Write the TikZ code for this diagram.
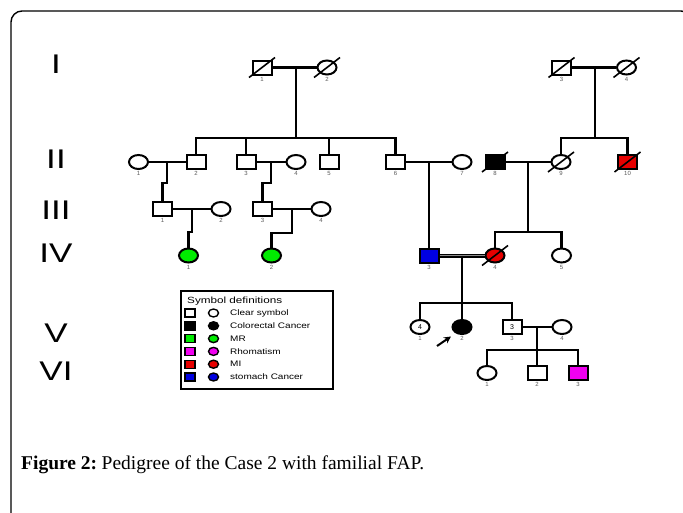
\documentclass[tikz,border=0pt]{standalone}
\usepackage{fontspec}
\setmainfont{Liberation Serif}
\setsansfont{Liberation Sans}
\usetikzlibrary{shapes.geometric, arrows.meta, positioning}
\definecolor{mrgreen}{RGB}{0,235,0}
\definecolor{mired}{RGB}{230,0,0}
\definecolor{stomachblue}{RGB}{0,0,225}
\definecolor{rheumamagenta}{RGB}{240,0,240}
\newcommand{\hwide}[2][1.3]{\scalebox{#1}[1]{#2}}

\begin{document}
\begin{tikzpicture}[x=1pt, y=-1pt,
    line/.style={line width=2.1pt},
    person/.style={draw, line width=2pt, minimum width=19pt, minimum height=14pt, inner sep=0pt, fill=white, font=\sffamily\fontsize{7}{7}\selectfont},
    male/.style={person, rectangle},
    female/.style={person, ellipse},
    slash/.style={draw, line width=1.6pt},
    dead/.style={append after command={([shift={(-13,10)}]\tikzlastnode.center) edge[slash] ([shift={(13,-10)}]\tikzlastnode.center)}},
    num/.style={font=\sffamily\fontsize{6}{6}\selectfont, text=black!65, inner sep=1pt, label distance=0.5pt},
    gen/.style={font=\sffamily\fontsize{27}{27}\selectfont, anchor=base, inner sep=0pt},
    lsym/.style={draw, line width=1.4pt, minimum width=10pt, minimum height=8pt, inner sep=0pt},
    ltext/.style={anchor=west, inner sep=0pt, font=\sffamily\fontsize{8}{8}\selectfont},
    arrow/.style={-{Stealth[length=7pt, width=7pt]}, line width=2pt}
]
    \useasboundingbox (0,0) rectangle (683,512);

    % Frame
    \draw[line width=1.4pt, rounded corners=11pt] (11,520) -- (11,11) -- (692,11) -- (692,520);

    % Generations
    \node[gen] (gI) at (56,73) {\hwide{I}};
    \node[gen] (gII) at (56,168) {\hwide{II}};
    \node[gen] (gIII) at (56,219) {\hwide{III}};
    \node[gen] (gIV) at (56,262) {\hwide{IV}};
    \node[gen] (gV) at (56,342) {\hwide{V}};
    \node[gen] (gVI) at (56,380) {\hwide{VI}};

    % Generation I
    \node[male, dead, label={[num]below:1}] (i1) at (262,67.5) {};
    \node[female, dead, label={[num]below:2}] (i2) at (327,67.5) {};
    \node[male, dead, label={[num]below:3}] (i3) at (561.5,67.5) {};
    \node[female, dead, label={[num]below:4}] (i4) at (626.5,67.5) {};

    % Generation II
    \node[female, label={[num]below:1}] (ii1) at (138.5,162) {};
    \node[male, label={[num]below:2}] (ii2) at (196,162) {};
    \node[male, label={[num]below:3}] (ii3) at (246,162) {};
    \node[female, label={[num]below:4}] (ii4) at (296,162) {};
    \node[male, label={[num]below:5}] (ii5) at (329,162) {};
    \node[male, label={[num]below:6}] (ii6) at (395.5,162) {};
    \node[female, label={[num]below:7}] (ii7) at (462,162) {};
    \node[male, dead, fill=black, label={[num]below:8}] (ii8) at (495,162) {};
    \node[female, dead, label={[num]below:9}] (ii9) at (561,162) {};
    \node[male, dead, fill=mired, label={[num]below:10}] (ii10) at (627.5,162) {};

    % Generation III
    \node[male, label={[num]below:1}] (iii1) at (162.5,209) {};
    \node[female, label={[num]below:2}] (iii2) at (221,209) {};
    \node[male, label={[num]below:3}] (iii3) at (262.5,209) {};
    \node[female, label={[num]below:4}] (iii4) at (321,209) {};

    % Generation IV
    \node[female, fill=mrgreen, label={[num]below:1}] (iv1) at (188.5,255.5) {};
    \node[female, fill=mrgreen, label={[num]below:2}] (iv2) at (271.5,255.5) {};
    \node[male, fill=stomachblue, label={[num]below:3}] (iv3) at (429,255.5) {};
    \node[female, dead, fill=mired, label={[num]below:4}] (iv4) at (495,255.5) {};
    \node[female, label={[num]below:5}] (iv5) at (561.5,255.5) {};

    % Generation V
    \node[female, label={[num]below:1}] (v1) at (420,327) {4};
    \node[female, fill=black, label={[num]below:2}] (v2) at (462,327) {};
    \node[male, label={[num]below:3}] (v3) at (512,327) {3};
    \node[female, label={[num]below:4}] (v4) at (562,327) {};

    % Generation VI
    \node[female, label={[num]below:1}] (vi1) at (487,373) {};
    \node[male, label={[num]below:2}] (vi2) at (537,373) {};
    \node[male, fill=rheumamagenta, label={[num]below:3}] (vi3) at (578,373) {};

    % Junctions
    \coordinate (mI12) at (296,67.5);
    \coordinate (sI12) at (296,138);
    \coordinate (mI34) at (595,67.5);
    \coordinate (sI34) at (595,138);
    \coordinate (mII12) at (167,162);
    \coordinate (mII34) at (271,162);
    \coordinate (mII67) at (429,162);
    \coordinate (mII89) at (528,162);
    \coordinate (sII89) at (528,232);
    \coordinate (mIII12) at (192,209);
    \coordinate (mIII34) at (292,209);
    \coordinate (mIV) at (462,255.5);
    \coordinate (sIV) at (462,303);
    \coordinate (mV) at (537,327);
    \coordinate (sV) at (537,350);

    % Lines
    \draw[line] (i1) -- (i2);
    \draw[line] (mI12) -- (sI12);
    \draw[line] (ii2.north) |- (sI12) -| (ii6.north);
    \draw[line] (ii3.north) |- (sI12);
    \draw[line] (ii5.north) |- (sI12);
    \draw[line] (i3) -- (i4);
    \draw[line] (mI34) -- (sI34);
    \draw[line] (ii9.north) |- (sI34) -| (ii10.north);

    \draw[line] (ii1) -- (ii2);
    \draw[line] (mII12) -- ++(0,21) -| (iii1.north);
    \draw[line] (ii3) -- (ii4);
    \draw[line] (mII34) -- ++(0,21) -| (iii3.north);
    \draw[line] (ii6) -- (ii7);
    \draw[line] (mII67) -- (iv3.north);
    \draw[line] (ii8) -- (ii9);
    \draw[line] (mII89) -- (sII89);
    \draw[line] (iv4.north) |- (sII89) -| (iv5.north);

    \draw[line] (iii1) -- (iii2);
    \draw[line] (mIII12) -- ++(0,23) -| (iv1.north);
    \draw[line] (iii3) -- (iii4);
    \draw[line] (mIII34) -- ++(0,24) -| (iv2.north);

    \draw[line width=1.3pt, double=black!45, double distance=1.4pt] (iv3) -- (iv4);
    \draw[line] (mIV) -- (v2.north);
    \draw[line] (v1.north) |- (sIV) -| (v3.north);

    \draw[line] (v3) -- (v4);
    \draw[line] (mV) -- (vi2.north);
    \draw[line] (vi1.north) |- (sV) -| (vi3.north);

    % Proband
    \coordinate (pa) at (437,346);
    \coordinate (pb) at (451,336.5);
    \draw[arrow] (pa) -- (pb);

    % Legend
    \node[draw, line width=2.4pt, minimum width=152pt, minimum height=98pt, anchor=north west, inner sep=0pt] (legend) at (180,290) {};
    \node[ltext, font=\sffamily\fontsize{9}{9}\selectfont] (ltitle) at (187,301) {\hwide[1.3]{Symbol definitions}};
    \foreach \c/\t [count=\i] in {white/Clear symbol, black/Colorectal Cancer, mrgreen/MR, rheumamagenta/Rhomatism, mired/MI, stomachblue/stomach Cancer} {
        \node[lsym, rectangle, fill=\c] (lsq\i) at (190,{300.2+12.8*\i}) {};
        \node[lsym, ellipse, fill=\c] (lci\i) at (213.5,{300.2+12.8*\i}) {};
        \node[ltext] (ltx\i) at (230,{300.2+12.8*\i}) {\hwide[1.25]{\t}};
    }

    % Caption
    \node[anchor=base west, inner sep=0pt, font=\fontsize{19.5}{19.5}\selectfont] (caption) at (21,469) {\textbf{Figure 2:}\hspace{-2pt} Pedigree of the Case 2 with familial FAP.};
\end{tikzpicture}
\end{document}
